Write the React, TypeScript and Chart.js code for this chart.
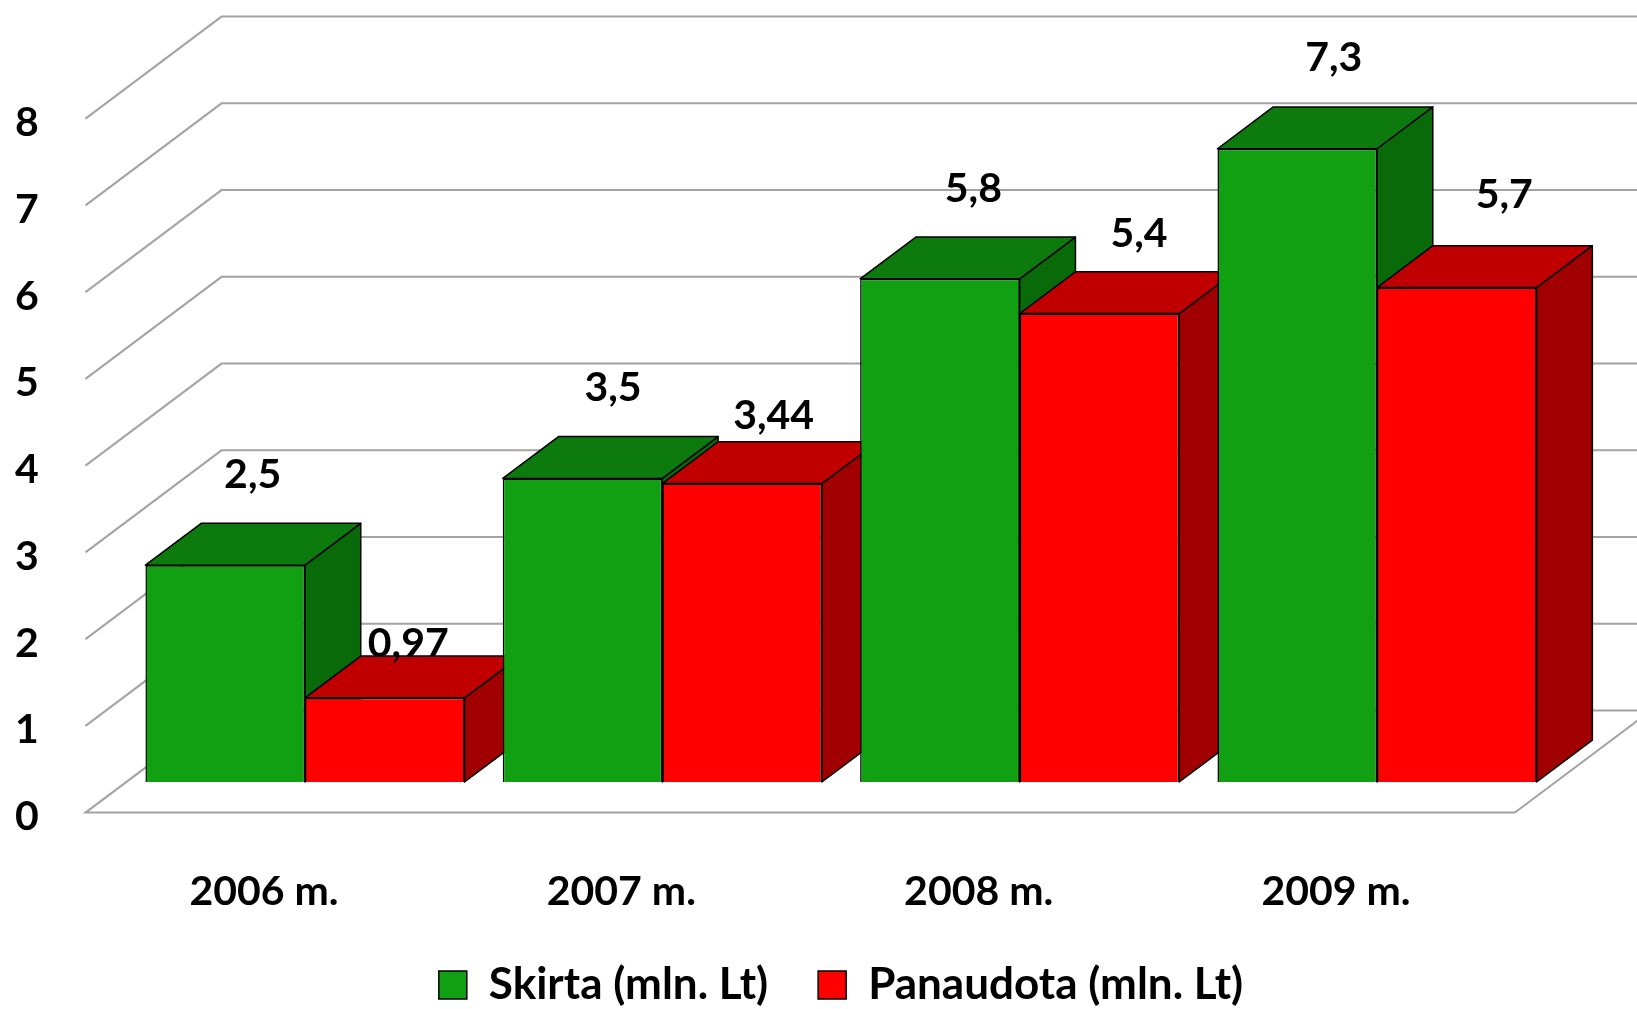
import React, { useEffect, useRef } from "react";
import { Chart, registerables } from "chart.js";

Chart.register(...registerables);

// ---- data ----
const categories = ["2006 m.", "2007 m.", "2008 m.", "2009 m."];
const skirtaValues = [2.5, 3.5, 5.8, 7.3];
const panaudotaValues = [0.97, 3.44, 5.4, 5.7];
const seriesLabels = ["Skirta (mln. Lt)", "Panaudota (mln. Lt)"];
const yTickValues = [0, 1, 2, 3, 4, 5, 6, 7, 8];

// ---- style ----
const W = 1637;
const H = 1009;
const FONT = "Lato, 'Noto Sans', sans-serif";
const FONT_SIZE = 41;
const LEGEND_FONT_SIZE = 44;
const FRONT_COLORS = ["#11a011", "#ff0000"];
const TOP_COLORS = ["#0c7a0c", "#c00000"];
const SIDE_COLORS = ["#096a09", "#a00000"];
const GRID = "#a3a3a3";
const DEPTH_X = 136;
const DEPTH_Y = 102;
const FRONT_FRAC = 0.3;
const BAR_FRAC = 0.41;
// label placement relative to bar top (perspective drift from first to last category)
const LABEL_SHIFT = [
  { dx0: 27.5, dx1: 36.5, dy0: -90.5, dy1: -90.5 },
  { dx0: 23.5, dx1: 47.5, dy0: -54.5, dy1: -93 },
];

const fmt = (v: number) => String(v).replace(".", ",");

const threeD = {
  id: "threeD",
  beforeDatasetsDraw(chart: any) {
    const { ctx, chartArea: a } = chart;
    const ys = chart.scales.y;
    const fx = -FRONT_FRAC * DEPTH_X;
    const fy = FRONT_FRAC * DEPTH_Y;
    const bx = (1 - FRONT_FRAC) * DEPTH_X;
    const by = -(1 - FRONT_FRAC) * DEPTH_Y;
    ctx.save();
    ctx.strokeStyle = GRID;
    ctx.lineWidth = 2;
    ys.ticks.forEach((t: any) => {
      const py = ys.getPixelForValue(t.value);
      ctx.beginPath();
      if (t.value === ys.min) {
        ctx.moveTo(a.right + bx + 200, py + by);
        ctx.lineTo(a.left + bx, py + by);
        ctx.lineTo(a.left + fx, py + fy);
        ctx.lineTo(a.right + fx, py + fy);
        ctx.lineTo(a.right + bx, py + by);
      } else {
        ctx.moveTo(a.left + fx, py + fy);
        ctx.lineTo(a.left + bx, py + by);
        ctx.lineTo(a.right + bx + 200, py + by);
      }
      ctx.stroke();
    });

    const dx = BAR_FRAC * DEPTH_X;
    const dy = BAR_FRAC * DEPTH_Y;
    const metas = chart.data.datasets.map((_: any, i: number) => chart.getDatasetMeta(i));
    const n = chart.data.labels.length;
    for (let i = 0; i < n; i++) {
      metas.forEach((meta: any, d: number) => {
        const el = meta.data[i];
        if (!el) return;
        const { x, y, base, width } = el.getProps(["x", "y", "base", "width"], true);
        const l = x - width / 2;
        const r = x + width / 2;
        ctx.lineWidth = 1.5;
        ctx.strokeStyle = "#000";
        ctx.lineJoin = "round";
        // side face
        ctx.beginPath();
        ctx.moveTo(r, y);
        ctx.lineTo(r + dx, y - dy);
        ctx.lineTo(r + dx, base - dy);
        ctx.lineTo(r, base);
        ctx.closePath();
        ctx.fillStyle = SIDE_COLORS[d];
        ctx.fill();
        ctx.stroke();
        // top face
        ctx.beginPath();
        ctx.moveTo(l, y);
        ctx.lineTo(l + dx, y - dy);
        ctx.lineTo(r + dx, y - dy);
        ctx.lineTo(r, y);
        ctx.closePath();
        ctx.fillStyle = TOP_COLORS[d];
        ctx.fill();
        ctx.stroke();
        // front face (library bar element)
        el.draw(ctx);
      });
    }
    ctx.restore();
    return false;
  },
  afterDraw(chart: any) {
    const { ctx } = chart;
    ctx.save();
    ctx.font = `bold ${FONT_SIZE}px ${FONT}`;
    ctx.fillStyle = "#000";
    ctx.textAlign = "center";
    ctx.textBaseline = "middle";
    chart.data.datasets.forEach((ds: any, d: number) => {
      const meta = chart.getDatasetMeta(d);
      const n = meta.data.length;
      meta.data.forEach((el: any, i: number) => {
        const { x, y } = el.getProps(["x", "y"], true);
        const t = n > 1 ? i / (n - 1) : 0;
        const s = LABEL_SHIFT[d];
        const ox = s.dx0 + (s.dx1 - s.dx0) * t;
        const oy = s.dy0 + (s.dy1 - s.dy0) * t;
        ctx.fillText(fmt(ds.data[i]), x + ox, y + oy);
      });
    });
    ctx.restore();
  },
};

export default function App() {
  const canvasRef = useRef<HTMLCanvasElement | null>(null);

  useEffect(() => {
    document.body.style.margin = "0";
    const canvas = canvasRef.current;
    if (!canvas) return;
    const font = { family: FONT, size: FONT_SIZE, weight: "bold" as const };
    const legendFont = { family: FONT, size: LEGEND_FONT_SIZE, weight: "bold" as const };
    const chart = new Chart(canvas, {
      type: "bar",
      data: {
        labels: categories,
        datasets: [
          {
            label: seriesLabels[0],
            data: skirtaValues,
            backgroundColor: FRONT_COLORS[0],
            borderColor: "#000",
            borderWidth: 1.5,
          },
          {
            label: seriesLabels[1],
            data: panaudotaValues,
            backgroundColor: FRONT_COLORS[1],
            borderColor: "#000",
            borderWidth: 1.5,
          },
        ],
      },
      options: {
        responsive: false,
        animation: false,
        devicePixelRatio: 1,
        events: [],
        layout: { padding: { top: 88, right: 81.3, left: 0, bottom: -8 } },
        datasets: {
          bar: { categoryPercentage: 0.893, barPercentage: 1, clip: false as any },
        },
        scales: {
          x: {
            grid: { display: false },
            border: { display: false },
            afterFit: (s: any) => {
              s.height = 131;
              s.paddingLeft = 0;
              s.paddingRight = 0;
            },
            ticks: {
              font,
              color: "#000",
              padding: 77,
              labelOffset: -41,
              maxRotation: 0,
              autoSkip: false,
            },
          },
          y: {
            min: 0,
            max: 8,
            grid: { display: false },
            border: { display: false },
            afterFit: (s: any) => {
              s.width = 126.3;
              s.paddingTop = 0;
              s.paddingBottom = 0;
            },
            afterBuildTicks: (s: any) => {
              s.ticks = yTickValues.map((v) => ({ value: v }));
            },
            ticks: {
              font,
              color: "#000",
              padding: 79.5,
              labelOffset: 35,
            },
          },
        },
        plugins: {
          legend: {
            position: "bottom",
            fullSize: false,
            labels: {
              boxWidth: 28,
              boxHeight: 28,
              padding: 50,
              font: legendFont,
              color: "#000",
            },
          },
          tooltip: { enabled: false },
        },
      },
      plugins: [threeD],
    });
    return () => chart.destroy();
  }, []);

  return (
    <div style={{ width: W, height: H, overflow: "hidden" }}>
      <canvas ref={canvasRef} width={W} height={H} style={{ display: "block" }} />
    </div>
  );
}
